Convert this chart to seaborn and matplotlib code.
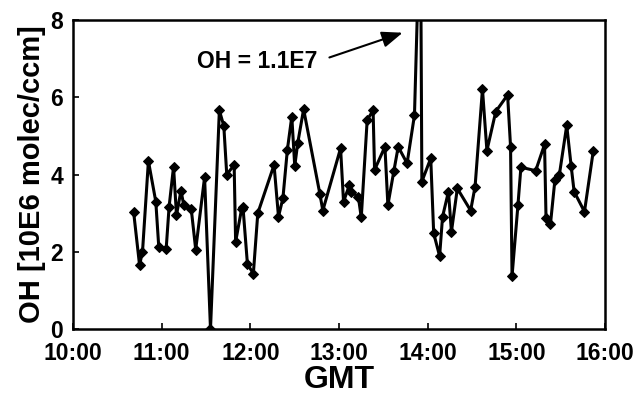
import pandas as pd
import matplotlib
matplotlib.use("Agg")
import matplotlib.pyplot as plt
import matplotlib.dates as mdates
import seaborn as sns

times = ["10:41", "10:45", "10:47", "10:51", "10:56", "10:58", "11:03", "11:05",
         "11:08", "11:10", "11:13", "11:15", "11:20", "11:23", "11:29", "11:33",
         "11:39", "11:42", "11:44", "11:49", "11:50", "11:54", "11:55", "11:58",
         "12:02", "12:05", "12:16", "12:19", "12:22", "12:25", "12:28", "12:30",
         "12:32", "12:36", "12:47", "12:49", "13:01", "13:03", "13:07", "13:08",
         "13:13", "13:15", "13:19", "13:23", "13:24", "13:31", "13:33", "13:37",
         "13:40", "13:46", "13:51", "13:55", "13:56", "14:02", "14:04", "14:08",
         "14:10", "14:14", "14:16", "14:20", "14:29", "14:32", "14:37", "14:40",
         "14:46", "14:54", "14:56", "14:57", "15:01", "15:03", "15:13", "15:19",
         "15:20", "15:23", "15:26", "15:29", "15:34", "15:37", "15:39", "15:46",
         "15:52"]
oh = [3.03, 1.66, 2.0, 4.35, 3.3, 2.13, 2.07, 3.17,
      4.2, 2.95, 3.58, 3.2, 3.1, 2.06, 3.93, 0.0,
      5.66, 5.26, 4.0, 4.25, 2.26, 3.1, 3.15, 1.68,
      1.44, 3.0, 4.25, 2.91, 3.39, 4.64, 5.5, 4.22,
      4.81, 5.69, 3.5, 3.07, 4.68, 3.3, 3.73, 3.56,
      3.43, 2.89, 5.41, 5.66, 4.12, 4.72, 3.21, 4.08,
      4.72, 4.29, 5.54, 11.0, 3.82, 4.42, 2.48, 1.89,
      2.91, 3.56, 2.52, 3.64, 3.07, 3.69, 6.21, 4.62,
      5.63, 6.06, 4.72, 1.37, 3.21, 4.19, 4.1, 4.78,
      2.87, 2.72, 3.86, 3.99, 5.27, 4.22, 3.56, 3.04,
      4.62]

day = "2000-01-01 "
df = pd.DataFrame({"GMT": pd.to_datetime([day + t for t in times]), "OH": oh})

sns.set_style("ticks")
plt.rcParams["font.family"] = ["Liberation Sans", "DejaVu Sans"]
plt.rcParams["font.weight"] = "bold"
for key in ["text.color", "axes.labelcolor", "xtick.color", "ytick.color"]:
    plt.rcParams[key] = "black"

fig = plt.figure(figsize=(6.35, 3.99), dpi=100)
ax = fig.add_axes([0.115, 0.175, 0.838, 0.775])

sns.lineplot(data=df, x="GMT", y="OH", ax=ax, color="black", linewidth=2.2,
             marker="D", markersize=5.5, markeredgecolor="black", estimator=None)

ax.set_xlim(pd.Timestamp(day + "10:00"), pd.Timestamp(day + "16:00"))
ax.set_ylim(0, 8)
ax.set_yticks([0, 2, 4, 6, 8])
ax.xaxis.set_major_locator(mdates.HourLocator())
ax.xaxis.set_major_formatter(mdates.DateFormatter("%H:%M"))

ax.tick_params(axis="both", direction="in", length=4, width=1.2,
               labelsize=16.5)
ax.tick_params(axis="x", pad=9)
ax.tick_params(axis="y", pad=7)
for lab in ax.get_xticklabels() + ax.get_yticklabels():
    lab.set_fontweight("bold")
for sp in ax.spines.values():
    sp.set_linewidth(1.8)
    sp.set_color("black")

ax.set_xlabel("GMT", fontsize=23, fontweight="bold", labelpad=0)
ax.set_ylabel("OH [10E6 molec/ccm]", fontsize=21, fontweight="bold", labelpad=3)

ax.annotate("OH = 1.1E7", xy=(pd.Timestamp(day + "13:43"), 7.67),
            xytext=(pd.Timestamp(day + "12:45"), 6.92),
            ha="right", va="center", fontsize=16.5, fontweight="bold",
            arrowprops=dict(arrowstyle="-|>,head_length=0.9,head_width=0.35",
                            color="black", lw=1.5, shrinkA=7, shrinkB=0,
                            relpos=(1, 0.5), mutation_scale=14))

fig.savefig("out.png", dpi=100)
